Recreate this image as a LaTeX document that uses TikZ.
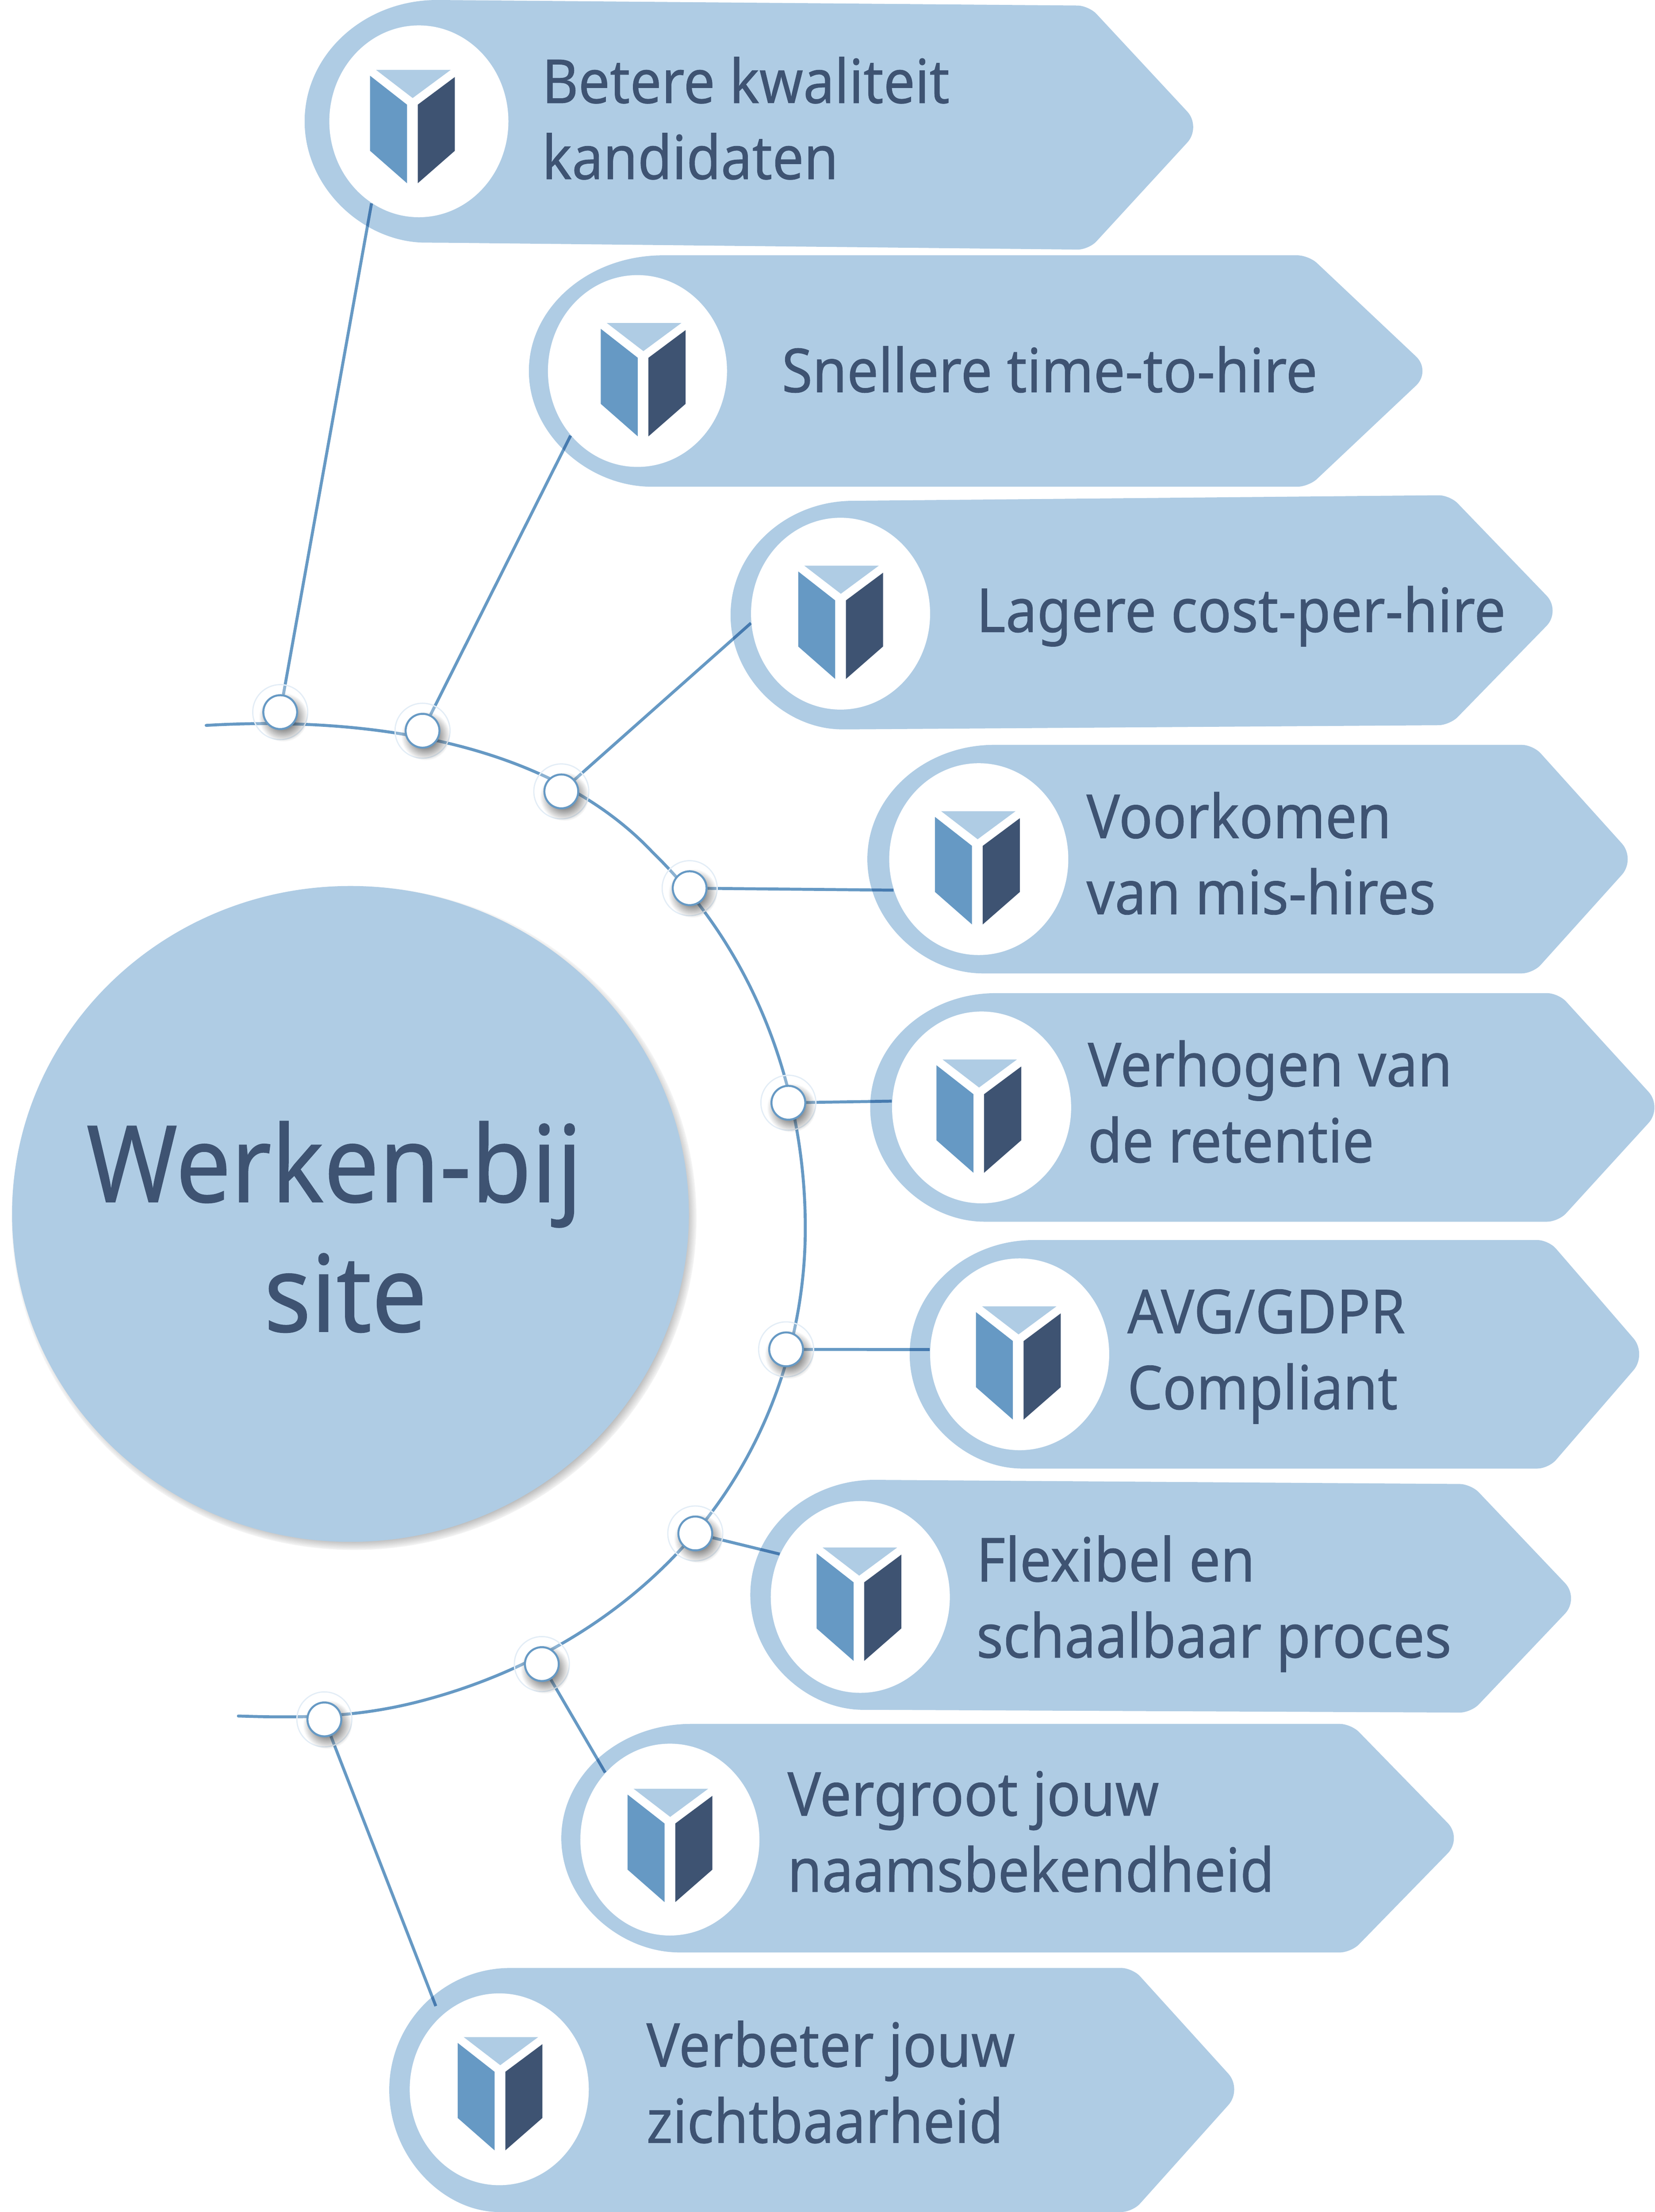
\documentclass[tikz,border=0pt]{standalone}
\usepackage{fontspec}
\setmainfont[FakeStretch=0.92,FakeBold=0.6]{Noto Sans}
\usetikzlibrary{shapes.geometric,shadows,fadings}

\definecolor{bannerblue}{HTML}{AFCCE4}
\definecolor{lineblue}{HTML}{6699C4}
\definecolor{inkblue}{HTML}{3E5372}
\definecolor{haloblue}{HTML}{E3EDF6}

\pgfdeclarelayer{base}
\pgfdeclarelayer{lines}
\pgfsetlayers{base,lines,main}

\pgfdeclareradialshading{hubfuzzy}{\pgfpointorigin}{color(0bp)=(pgftransparent!0); color(23.8bp)=(pgftransparent!0); color(25bp)=(pgftransparent!100); color(50bp)=(pgftransparent!100)}
\pgfdeclarefading{hubedge}{\pgfuseshading{hubfuzzy}}
\tikzfading[name=softdot, inner color=transparent!0, outer color=transparent!100]

\tikzset{
  pics/shield/.style={code={
    \fill[bannerblue] (-25.7,0) -- (27.1,0) -- (0.2,19.9) -- cycle;
    \fill[lineblue] (-30,4.1) -- (-3.8,24.6) -- (-3.8,80.3) -- (-30,57.3) -- cycle;
    \fill[inkblue] (30.1,5) -- (3.8,24.6) -- (3.8,80.3) -- (30.1,57.3) -- cycle;
  }}
}

\begin{document}
\begin{tikzpicture}[x=0.02cm, y=-0.02cm,
  banner/.style={fill=bannerblue},
  corner/.style={rounded corners=0.16cm},
  tip/.style={rounded corners=0.3cm},
  face/.style={ellipse, fill=white, inner sep=0pt, minimum width=2.54cm, minimum height=2.72cm},
  bannertext/.style={anchor=base west, inner sep=0pt, align=left, text=inkblue, font=\fontsize{24.5}{30.7}\selectfont},
  hub/.style={ellipse, fill=bannerblue, inner sep=0pt, minimum width=9.6cm, minimum height=9.3cm,
    general shadow={fill=black!70, opacity=0.55, path fading=hubedge, shadow scale=1.012, shadow xshift=0.05cm, shadow yshift=-0.06cm}},
  halo/.style={circle, draw=haloblue, line width=0.5pt, fill=white, fill opacity=0.25, inner sep=0pt, minimum size=0.78cm},
  dot/.style={circle, draw=lineblue, line width=0.8pt, fill=white, inner sep=0pt, minimum size=0.48cm,
    general shadow={fill=black, opacity=0.85, path fading=softdot, shadow scale=1.45, shadow xshift=0.03cm, shadow yshift=-0.05cm}},
  conn/.style={draw=lineblue, line width=1.2pt, blend mode=multiply}]
  \useasboundingbox (0,0) rectangle (1173.3,1568);

  % banners
  \begin{pgfonlayer}{base}
    \fill[banner] (310,0) [corner] -- (772,4) [tip] -- (852,90) [corner] -- (772,177) -- (310,172) [sharp corners] arc[start angle=90, end angle=270, x radius=94, y radius=86] -- cycle;
    \fill[banner] (470,181) [corner] -- (928,181) [tip] -- (1015,263) [corner] -- (928,345) -- (470,345) [sharp corners] arc[start angle=90, end angle=270, x radius=95, y radius=82] -- cycle;
    \fill[banner] (605,355) [corner] -- (1028,351) [tip] -- (1107,433) [corner] -- (1028,514) -- (605,517) [sharp corners] arc[start angle=90, end angle=270, x radius=87, y radius=81] -- cycle;
    \fill[banner] (705,528) [corner] -- (1087,528) [tip] -- (1160,609) [corner] -- (1087,690) -- (705,690) [sharp corners] arc[start angle=90, end angle=270, x radius=90, y radius=81] -- cycle;
    \fill[banner] (706,704) [corner] -- (1105,704) [tip] -- (1179,785) [corner] -- (1105,866) -- (706,866) [sharp corners] arc[start angle=90, end angle=270, x radius=89, y radius=81] -- cycle;
    \fill[banner] (733,879) [corner] -- (1098,879) [tip] -- (1168,960) [corner] -- (1098,1041) -- (733,1041) [sharp corners] arc[start angle=90, end angle=270, x radius=88, y radius=81] -- cycle;
    \fill[banner] (620,1049) [corner] -- (1043,1052) [tip] -- (1120,1133) [corner] -- (1043,1214) -- (620,1212) [sharp corners] arc[start angle=90, end angle=270, x radius=88, y radius=81.5] -- cycle;
    \fill[banner] (490,1222) [corner] -- (958,1222) [tip] -- (1037,1303) [corner] -- (958,1384) -- (490,1384) [sharp corners] arc[start angle=90, end angle=270, x radius=92, y radius=81] -- cycle;
    \fill[banner] (362,1395) [corner] -- (803,1395) [tip] -- (881,1481) [corner] -- (803,1568) -- (362,1568) [sharp corners] arc[start angle=90, end angle=270, x radius=86, y radius=86.5] -- cycle;
  \end{pgfonlayer}

  % centre circle
  \node[hub] (hub) at (248.5,860.5) {};
  \node[anchor=base, inner sep=0pt, align=center, text=inkblue, font=\fontsize{43}{52.3}\selectfont] (hubtext) at (245,944) {Werken-bij\hspace*{0.32cm}\\site};

  % white faces
  \node[face] (face1) at (297,86) {};
  \node[face] (face2) at (452,263) {};
  \node[face] (face3) at (596,435) {};
  \node[face] (face4) at (694,609) {};
  \node[face] (face5) at (696,785) {};
  \node[face] (face6) at (723,960) {};
  \node[face] (face7) at (610,1132) {};
  \node[face] (face8) at (475,1304) {};
  \node[face] (face9) at (354,1481) {};

  % icons
  \pic at (292.4,49.6) {shield};
  \pic at (456,229) {shield};
  \pic at (596,401) {shield};
  \pic at (693,575) {shield};
  \pic at (694,751) {shield};
  \pic at (722,926) {shield};
  \pic at (609,1097) {shield};
  \pic at (475,1268) {shield};
  \pic at (354.5,1444) {shield};

  % texts
  \node[bannertext] (text1) at (384,127) {Betere kwaliteit\\kandidaten};
  \node[bannertext] (text2) at (554,278) {Snellere time-to-hire};
  \node[bannertext] (text3) at (692,448) {Lagere cost-per-hire};
  \node[bannertext] (text4) at (770,648) {Voorkomen\\van mis-hires};
  \node[bannertext] (text5) at (771,824) {Verhogen van\\de retentie};
  \node[bannertext] (text6) at (799,999) {AVG/GDPR\\Compliant};
  \node[bannertext] (text7) at (692,1175) {Flexibel en\\schaalbaar proces};
  \node[bannertext] (text8) at (558,1341) {Vergroot jouw\\naamsbekendheid};
  \node[bannertext] (text9) at (458,1519) {Verbeter jouw\\zichtbaarheid};

  % dots on the arc
  \node[halo] (halo1) at (198.7,504.8) {};
  \node[halo] (halo2) at (299.6,518) {};
  \node[halo] (halo3) at (398,561) {};
  \node[halo] (halo4) at (489,629.6) {};
  \node[halo] (halo5) at (559,781.7) {};
  \node[halo] (halo6) at (557.4,956.5) {};
  \node[halo] (halo7) at (493,1087) {};
  \node[halo] (halo8) at (384.2,1179.6) {};
  \node[halo] (halo9) at (230,1218.8) {};
  \node[dot] (dot1) at (halo1) {};
  \node[dot] (dot2) at (halo2) {};
  \node[dot] (dot3) at (halo3) {};
  \node[dot] (dot4) at (halo4) {};
  \node[dot] (dot5) at (halo5) {};
  \node[dot] (dot6) at (halo6) {};
  \node[dot] (dot7) at (halo7) {};
  \node[dot] (dot8) at (halo8) {};
  \node[dot] (dot9) at (halo9) {};

  \coordinate (end9) at (309,1422);

  \begin{pgfonlayer}{lines}
    % the arc
    \draw[conn, line cap=round] (146.2,514.2) .. controls (250,508) and (385,522) .. (462.5,603.9)
      .. controls (534.5,674) and (571,770.6) .. (571,870.6)
      .. controls (571,936.6) and (551.6,1002) .. (515.3,1056.8)
      .. controls (466.3,1130.8) and (388.5,1181.4) .. (302.5,1204.7)
      .. controls (256.5,1217.3) and (217,1218) .. (169,1216.4);
    % connectors
    \draw[conn] (dot1) -- (face1.240);
    \draw[conn] (dot2) -- (face2.224);
    \draw[conn] (dot3) -- (face3.186);
    \draw[conn] (dot4) -- (face4.200);
    \draw[conn] (dot5) -- (face5.176);
    \draw[conn] (dot6) -- (face6.177);
    \draw[conn] (dot7) -- (face7.152);
    \draw[conn] (dot8) -- (face8.134);
    \draw[conn] (dot9) -- (end9);
  \end{pgfonlayer}
\end{tikzpicture}
\end{document}
